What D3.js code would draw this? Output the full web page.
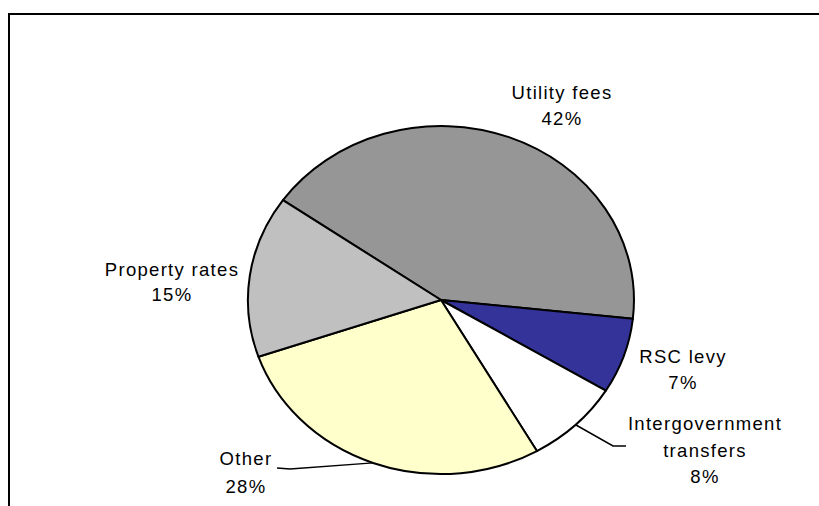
<!DOCTYPE html>
<html>
<head>
<meta charset="utf-8">
<script src="https://cdn.jsdelivr.net/npm/d3@7"></script>
<style>
  html, body { margin: 0; padding: 0; background: #fff; }
  svg { display: block; }
  text { font-family: "Liberation Sans", Arial, sans-serif; font-size: 18.5px; letter-spacing: 1.3px; fill: #000; }
</style>
</head>
<body>
<svg id="chart" width="819" height="506"></svg>
<script>
// Revenue sources (share of total, %)
const categories = ["Utility fees", "RSC levy", "Intergovernment transfers", "Other", "Property rates"];
const values = [42, 7, 8, 28, 15];
const colors = ["#969696", "#333399", "#ffffff", "#ffffcc", "#c0c0c0"];
const labelLines = [
  ["Utility fees", "42%"],
  ["RSC levy", "7%"],
  ["Intergovernment", "transfers", "8%"],
  ["Other", "28%"],
  ["Property rates", "15%"]
];

// Layout
const W = 819, H = 506;
const cx = 441, cy = 300, rx = 193, ry = 174;
const startDeg = -55;
// label anchor (centre x, first baseline y) and line height
const labelLayout = [
  { x: 562, y: 99, lh: 26 },
  { x: 683, y: 363, lh: 26 },
  { x: 705, y: 430, lh: 26.5 },
  { x: 246, y: 465, lh: 28 },
  { x: 172, y: 276, lh: 25 }
];
// leader lines: elbow and end points near the label
const leaders = {
  2: { elbow: [613, 446], end: [626, 446] },
  3: { elbow: [290, 469], end: [277, 468] }
};

const svg = d3.select("#chart");

// Frame (clipped on the right and bottom)
svg.append("path")
  .attr("d", `M9,${H} V14 H${W}`)
  .attr("fill", "none")
  .attr("stroke", "#000")
  .attr("stroke-width", 2);

const start = startDeg * Math.PI / 180;
const pie = d3.pie().sort(null).value(d => d)
  .startAngle(start).endAngle(start + 2 * Math.PI);
const arcs = pie(values);

// Unit circle arcs, stretched into an ellipse
const arc = d3.arc().innerRadius(0).outerRadius(1);
const g = svg.append("g")
  .attr("transform", `translate(${cx},${cy}) scale(${rx},${ry})`);

g.selectAll("path.slice")
  .data(arcs)
  .join("path")
  .attr("class", "slice")
  .attr("d", arc)
  .attr("fill", (d, i) => colors[i])
  .attr("stroke", "#000")
  .attr("stroke-width", 2)
  .attr("stroke-linejoin", "round")
  .attr("vector-effect", "non-scaling-stroke");

// Leader lines from the slice edge at mid angle
arcs.forEach((d, i) => {
  const L = leaders[i];
  if (!L) return;
  const a = (d.startAngle + d.endAngle) / 2;
  const p0 = [cx + rx * Math.sin(a), cy - ry * Math.cos(a)];
  svg.append("polyline")
    .attr("points", [p0, L.elbow, L.end].map(p => p.join(",")).join(" "))
    .attr("fill", "none")
    .attr("stroke", "#000")
    .attr("stroke-width", 1.5);
});

// Labels
arcs.forEach((d, i) => {
  const lay = labelLayout[i];
  const t = svg.append("text")
    .attr("text-anchor", "middle");
  labelLines[i].forEach((s, k) => {
    t.append("tspan")
      .attr("x", lay.x)
      .attr("y", lay.y + k * lay.lh)
      .text(s);
  });
});
</script>
</body>
</html>
